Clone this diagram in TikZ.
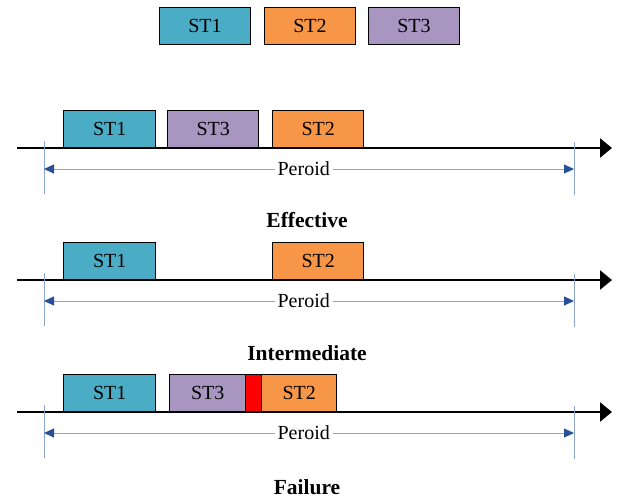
\documentclass[tikz,border=0pt]{standalone}
\usepackage{fontspec}
\setmainfont{Liberation Serif}
\usetikzlibrary{arrows.meta,positioning,calc}
\definecolor{stone}{RGB}{75,172,198}
\definecolor{sttwo}{RGB}{247,150,70}
\definecolor{stthree}{RGB}{168,150,192}
\definecolor{percol}{RGB}{140,165,210}
\definecolor{pertip}{RGB}{40,80,150}

\begin{document}
\begin{tikzpicture}[x=1pt,y=-1pt,
   task/.style={draw=black,line width=1.4pt,minimum height=37pt,inner sep=0pt,
     font=\fontsize{20}{22}\selectfont},
   slot/.style={task,anchor=south west},
   axis/.style={line width=2.4pt,-{Triangle[length=12pt,width=19pt]}},
   per/.style={percol,line width=0.9pt,
     {Triangle[length=10pt,width=9pt,color=pertip]}-{Triangle[length=10pt,width=9pt,color=pertip]}},
   tick/.style={percol,line width=0.9pt},
   caption/.style={font=\fontsize{21.5}{24}\selectfont\bfseries}]
  \useasboundingbox (0,0) rectangle (620,499);
  % legend
  \node[task,fill=stone,minimum width=91pt]   (lg1) at (205,26) {ST1};
  \node[task,fill=sttwo,minimum width=91pt]   (lg2) at (310,26) {ST2};
  \node[task,fill=stthree,minimum width=91pt] (lg3) at (414,26) {ST3};
  % time lines with period
  \foreach \r/\yy/\lab/\ly in {a/148/Effective/220,b/280/Intermediate/353,c/412/Failure/487}{
    \coordinate (s\r) at (17,\yy);
    \coordinate (e\r) at (612,\yy);
    \draw[axis] (s\r) -- (e\r);
    \coordinate (tl\r) at (44,\yy-7);
    \coordinate (bl\r) at (44,\yy+46);
    \coordinate (tr\r) at (574,\yy-6);
    \coordinate (br\r) at (574,\yy+47);
    \draw[tick] (tl\r) -- (bl\r);
    \draw[tick] (tr\r) -- (br\r);
    \coordinate (pl\r) at (44,\yy+21);
    \coordinate (pr\r) at (574,\yy+21);
    \draw[per] (pl\r) -- node[pos=0.49,fill=white,text=black,inner xsep=3pt,
      font=\fontsize{20}{22}\selectfont] (pd\r) {Peroid} (pr\r);
    \node[caption] (cap\r) at (307,\ly) {\lab};
  }
  % effective
  \node[slot,fill=stone,minimum width=92pt]   (a1) at (63,148)  {ST1};
  \node[slot,fill=stthree,minimum width=91pt] (a3) at (167,148) {ST3};
  \node[slot,fill=sttwo,minimum width=91pt]   (a2) at (272,148) {ST2};
  % intermediate
  \node[slot,fill=stone,minimum width=92pt]   (b1) at (63,280)  {ST1};
  \node[slot,fill=sttwo,minimum width=91pt]   (b2) at (272,280) {ST2};
  % failure
  \node[slot,fill=stone,minimum width=92pt]   (c1) at (63,412)  {ST1};
  \node[slot,fill=stthree,minimum width=76pt] (c3) at (169,412) {ST3};
  \node[slot,fill=red,minimum width=16pt]     (cx) at (245,412) {};
  \node[slot,fill=sttwo,minimum width=75pt]   (c2) at (261,412) {ST2};
\end{tikzpicture}
\end{document}
